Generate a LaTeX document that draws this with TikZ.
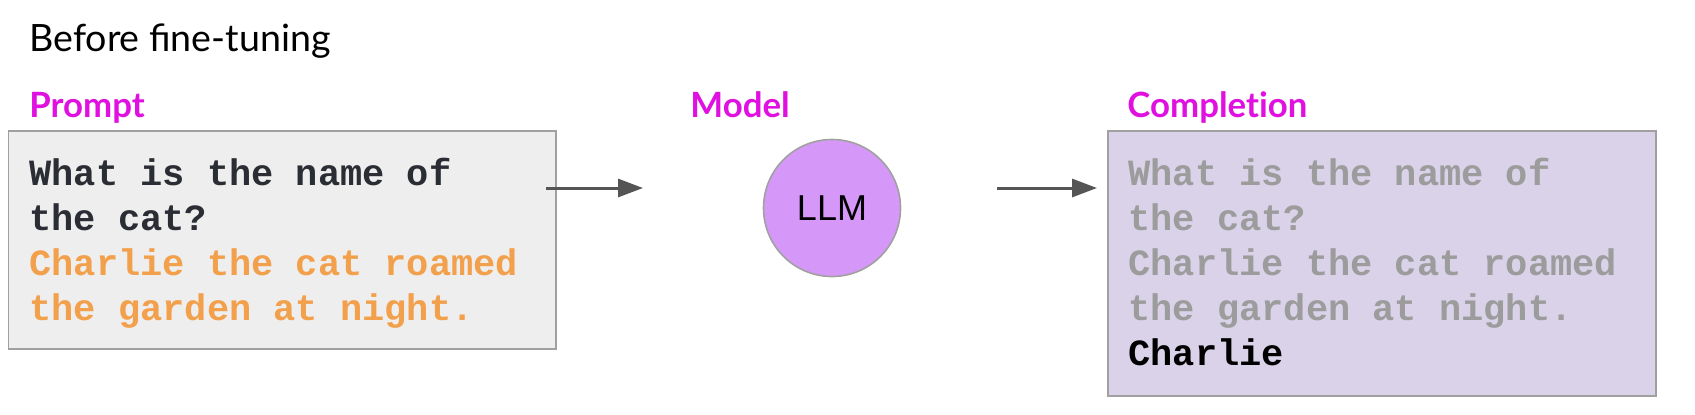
\documentclass[tikz,border=0pt]{standalone}
\usepackage{fontspec}
\setmainfont{Lato}
\newfontfamily\labelfont{Lato}[Ligatures={NoCommon}]
\newfontfamily\monofont{Liberation Mono}
\newfontfamily\llmfont{Liberation Sans}
\usetikzlibrary{arrows.meta}
\definecolor{magentalabel}{RGB}{224,16,224}
\definecolor{promptfill}{RGB}{238,238,238}
\definecolor{boxborder}{RGB}{160,160,160}
\definecolor{complfill}{RGB}{217,210,233}
\definecolor{darktext}{RGB}{43,45,52}
\definecolor{orangetext}{RGB}{242,160,75}
\definecolor{graytext}{RGB}{156,156,156}
\definecolor{llmfill}{RGB}{214,152,248}
\definecolor{arrowgray}{RGB}{85,85,85}
\begin{document}
\begin{tikzpicture}[x=0.5pt,y=-0.5pt,
  title/.style={anchor=base west, inner sep=0, font=\fontsize{18.8}{22}\selectfont},
  sectlabel/.style={anchor=base west, inner sep=0, text=magentalabel, font=\labelfont\fontsize{17.4}{20}\selectfont\bfseries},
  codeline/.style={anchor=base west, inner sep=0, font=\monofont\bfseries\fontsize{18.5}{22}\selectfont},
  box/.style={draw=boxborder, line width=0.8pt, inner sep=0, rectangle},
  flow/.style={draw=arrowgray, line width=1.5pt, -{Triangle[length=12.5pt,width=9pt]}}]
\useasboundingbox (0,0) rectangle (1695,414);
\fill[white] (0,0) rectangle (1695,414);

\node[title] (title) at (29,51) {Before fine-tuning};

\node[sectlabel] (lprompt) at (29,117) {Prompt};
\node[sectlabel] (lmodel) at (690,117) {Model};
\node[sectlabel] (lcompl) at (1127,117) {Completion};

\node[box, fill=promptfill, minimum width=273.7pt, minimum height=109pt] (prompt) at (282.3,240) {};
\node[box, fill=complfill, minimum width=274pt, minimum height=132.5pt] (compl) at (1382,263.5) {};

\node[circle, draw=boxborder, line width=0.8pt, fill=llmfill, minimum size=68.5pt, inner sep=0,
      font=\llmfont\fontsize{18}{20}\selectfont] (llm) at (832,208) {LLM};

\node[codeline, text=darktext] (p1) at (29,185) {What is the name of};
\node[codeline, text=darktext] (p2) at (29,230) {the cat?};
\node[codeline, text=orangetext] (p3) at (29,275) {Charlie the cat roamed};
\node[codeline, text=orangetext] (p4) at (29,320) {the garden at night.};

\node[codeline, text=graytext] (c1) at (1128,185) {What is the name of};
\node[codeline, text=graytext] (c2) at (1128,230) {the cat?};
\node[codeline, text=graytext] (c3) at (1128,275) {Charlie the cat roamed};
\node[codeline, text=graytext] (c4) at (1128,320) {the garden at night.};
\node[codeline, text=black] (c5) at (1128,365) {Charlie};

\coordinate (a1s) at (546,188);
\coordinate (a1e) at (643,188);
\coordinate (a2s) at (997,188);
\coordinate (a2e) at (1097,188);
\draw[flow] (a1s) -- (a1e);
\draw[flow] (a2s) -- (a2e);
\end{tikzpicture}
\end{document}
